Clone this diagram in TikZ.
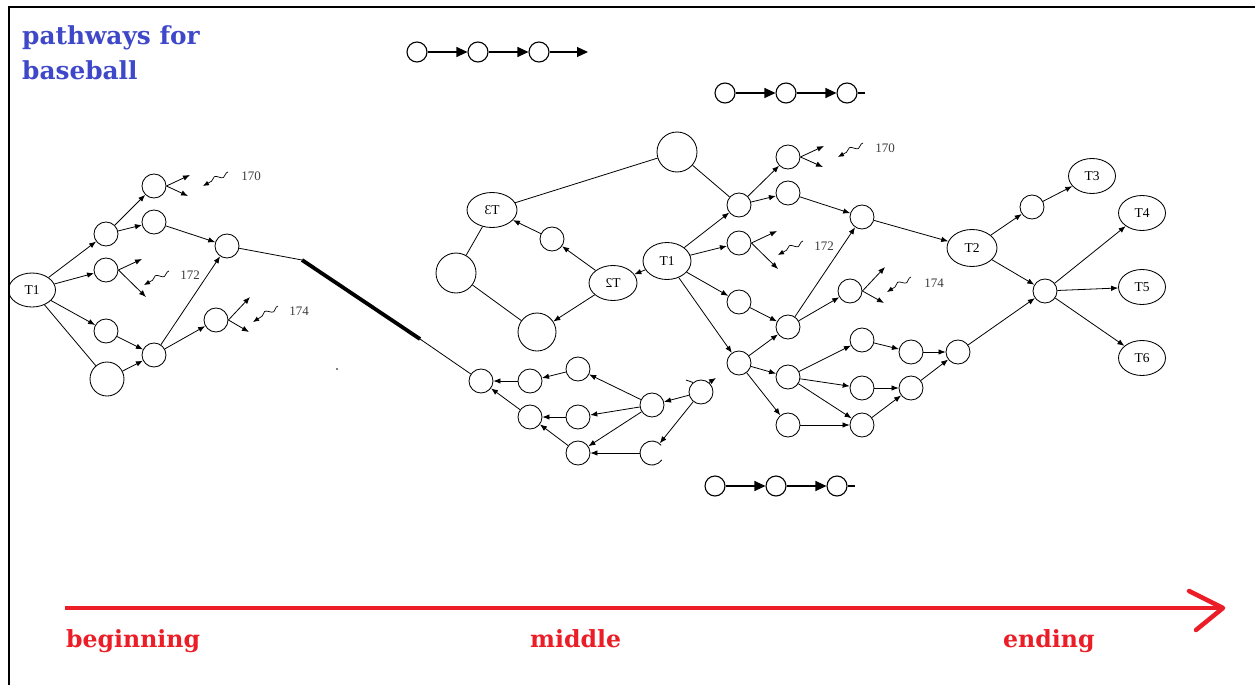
\documentclass[tikz,border=0pt]{standalone}
\usepackage{fontspec}
\setmainfont{Liberation Serif}
\newfontfamily\titlefont{DejaVu Serif}
\usetikzlibrary{arrows.meta,shapes.geometric,decorations.pathmorphing}
\definecolor{ttlblue}{RGB}{62,72,200}
\definecolor{axred}{RGB}{235,30,40}
\definecolor{lblgray}{RGB}{60,60,60}
\tikzset{
  circ/.style={circle, draw, minimum size=24pt, inner sep=0pt, line width=0.85pt},
  ell/.style={ellipse, draw, minimum width=48pt, minimum height=35pt, inner sep=0pt, line width=0.85pt, font=\fontsize{13.5}{13.5}\selectfont},
  arr/.style={-{Latex[length=7pt,width=5.5pt]}, line width=0.8pt},
  ln/.style={line width=0.8pt},
  thick line/.style={line width=3.8pt},
  squig/.style={-{Latex[length=6pt,width=5pt]}, line width=0.7pt, decorate,
    decoration={snake, amplitude=2.6pt, segment length=15pt, pre length=2pt, post length=4pt}},
  num/.style={font=\fontsize{13}{13}\selectfont, text=lblgray, inner sep=0pt},
  chainnode/.style={circle, draw, minimum size=20pt, inner sep=0pt, line width=1.1pt},
  chainarr/.style={-{Triangle[length=11pt,width=10pt]}, line width=1.1pt},
  ttl/.style={font=\titlefont\bfseries\fontsize{24.8}{28}\selectfont, text=ttlblue, inner sep=0pt, anchor=base west},
  axlbl/.style={font=\titlefont\bfseries\fontsize{23.6}{26}\selectfont, text=axred, inner sep=0pt, anchor=base west},
}
\begin{document}
\begin{tikzpicture}[x=1pt,y=-1pt]
\useasboundingbox (0,0) rectangle (1255,685);
% frame
\draw[line width=1.2pt] (9,685) -- (9,7) -- (1255,7);

% title
\node[ttl] (t1) at (22,45) {pathways for};
\node[ttl] (t2) at (22,80) {baseball};

% ---------------- left cluster ----------------
\node[ell, minimum width=47pt, minimum height=34pt] (L) at (32,290) {T1};
\node[circ] (La) at (106,234) {};
\node[circ] (L170) at (154,186) {};
\node[circ] (Lb) at (154,222) {};
\node[circ] (L172) at (106,270) {};
\node[circ] (Lc) at (106,331) {};
\node[circ, minimum size=34pt] (Lbig) at (107,379) {};
\node[circ] (Ld) at (154,355) {};
\node[circ] (Le) at (227,246) {};
\node[circ] (L174) at (216,320) {};
\coordinate (La1) at (190,175);
\coordinate (La2) at (188,196);
\coordinate (Lb1) at (142,259);
\coordinate (Lb2) at (146,297);
\coordinate (Lc1) at (250,297);
\coordinate (Lc2) at (249,332);
\draw[arr] (L170.east) -- (La1);
\draw[arr] (L170.east) -- (La2);
\draw[arr] (L172.east) -- (Lb1);
\draw[arr] (L172.east) -- (Lb2);
\draw[arr] (L174.east) -- (Lc1);
\draw[arr] (L174.east) -- (Lc2);
\coordinate (Ls1a) at (228,172); \coordinate (Ls1b) at (203,186);
\coordinate (Ls2a) at (169,271); \coordinate (Ls2b) at (144,285);
\coordinate (Ls3a) at (278,306); \coordinate (Ls3b) at (253,322);
\draw[squig] (Ls1a) -- (Ls1b);
\draw[squig] (Ls2a) -- (Ls2b);
\draw[squig] (Ls3a) -- (Ls3b);
\node[num] (Ln1) at (251,176) {170};
\node[num] (Ln2) at (190,275) {172};
\node[num] (Ln3) at (299,311) {174};
\draw[arr] (L) -- (La);
\draw[arr] (L) -- (L172);
\draw[arr] (L) -- (Lc);
\draw[ln] (L) -- (Lbig);
\draw[arr] (Lbig) -- (Ld);
\draw[arr] (La) -- (L170);
\draw[arr] (La) -- (Lb);
\draw[arr] (Lb) -- (Le);
\draw[arr] (Lc) -- (Ld);
\draw[arr] (Ld) -- (Le);
\draw[arr] (Ld) -- (L174);

% bridge
\coordinate (J1) at (302,260);
\coordinate (J2) at (420,339);
\fill (337,369) circle[radius=0.9pt];

% ---------------- middle upper cluster ----------------
\node[circ, minimum size=40pt] (Mtop) at (677,152) {};
\node[ell, minimum width=50pt] (M3) at (492,210) {\scalebox{-1}[1]{T3}};
\node[circ] (Ms) at (552,239) {};
\node[circ, minimum size=40pt] (Mleft) at (456,273) {};
\node[ell] (M2) at (613,283) {\scalebox{-1}[1]{T2}};
\node[ell, minimum height=37pt] (M1) at (667,261) {T1};
\node[circ, minimum size=38pt] (Mbot) at (537,332) {};
\draw[ln] (M3) -- (Mtop);
\draw[ln] (M3) -- (Mleft);
\draw[ln] (Mleft) -- (Mbot);
\draw[arr] (M2) -- (Ms);
\draw[arr] (Ms) -- (M3);
\draw[arr] (M2) -- (Mbot);
\draw[arr] (M1) -- (M2);

% ---------------- middle lower cluster ----------------
\node[circ] (n1) at (481,381) {};
\node[circ] (n2) at (530,381) {};
\node[circ] (n3) at (578,369) {};
\node[circ] (n4) at (530,417) {};
\node[circ] (n5) at (578,417) {};
\node[circ] (n6) at (578,453) {};
\node[circ] (n7) at (652,405) {};
\node[circ] (n8) at (701,392) {};
\node[circ, draw=none] (n9) at (652,453) {};
\draw[line width=0.85pt] ([shift={(40:12pt)}]n9.center) arc[start angle=40, end angle=325, radius=12pt];
\coordinate (n8a) at (716,378);
\coordinate (n8b) at (686,380);
\draw[arr] (n8.50) -- (n8a);
\draw[ln] (n8.130) -- (n8b);
\draw[ln] (Le) -- (J1);
\draw[thick line] (J1) -- (J2);
\draw[ln] (J2) -- (n1);
\draw[arr] (n2) -- (n1);
\draw[arr] (n3) -- (n2);
\draw[arr] (n4) -- (n1);
\draw[arr] (n5) -- (n4);
\draw[arr] (n6) -- (n4);
\draw[arr] (n7) -- (n3);
\draw[arr] (n7) -- (n5);
\draw[arr] (n7) -- (n6);
\draw[arr] (n8) -- (n7);
\draw[arr] (n8) -- (n9);
\draw[arr] (n9) -- (n6);

% ---------------- right cluster ----------------
\node[circ] (Ra) at (739,205) {};
\node[circ] (R170) at (788,157) {};
\node[circ] (Rb) at (788,193) {};
\node[circ] (R172) at (739,243) {};
\node[circ] (Rc) at (739,302) {};
\node[circ] (Rd) at (788,327) {};
\node[circ] (Re) at (862,217) {};
\node[circ] (R174) at (850,291) {};
\node[ell, minimum width=50pt, minimum height=37pt] (T2) at (972,248) {T2};
\node[circ] (Rf) at (739,363) {};
\node[circ] (Rg) at (788,377) {};
\node[circ] (Rh) at (788,425) {};
\node[circ] (Ri) at (862,340) {};
\node[circ] (Rj) at (911,352) {};
\node[circ] (Rk) at (862,388) {};
\node[circ] (Rl) at (911,388) {};
\node[circ] (Rm) at (862,425) {};
\node[circ] (Rn) at (958,352) {};
\coordinate (Ra1) at (824,146);
\coordinate (Ra2) at (823,167);
\coordinate (Rb1) at (777,231);
\coordinate (Rb2) at (778,269);
\coordinate (Rc1) at (885,267);
\coordinate (Rc2) at (884,303);
\draw[arr] (R170.east) -- (Ra1);
\draw[arr] (R170.east) -- (Ra2);
\draw[arr] (R172.east) -- (Rb1);
\draw[arr] (R172.east) -- (Rb2);
\draw[arr] (R174.east) -- (Rc1);
\draw[arr] (R174.east) -- (Rc2);
\coordinate (Rs1a) at (863,143); \coordinate (Rs1b) at (838,157);
\coordinate (Rs2a) at (803,241); \coordinate (Rs2b) at (778,255);
\coordinate (Rs3a) at (911,277); \coordinate (Rs3b) at (887,292);
\draw[squig] (Rs1a) -- (Rs1b);
\draw[squig] (Rs2a) -- (Rs2b);
\draw[squig] (Rs3a) -- (Rs3b);
\node[num] (Rn1) at (885,148) {170};
\node[num] (Rn2) at (824,246) {172};
\node[num] (Rn3) at (934,283) {174};
\draw[ln] (Mtop) -- (Ra);
\draw[arr] (M1) -- (Ra);
\draw[arr] (M1) -- (R172);
\draw[arr] (M1) -- (Rc);
\draw[arr] (M1) -- (Rf);
\draw[arr] (Ra) -- (R170);
\draw[arr] (Ra) -- (Rb);
\draw[arr] (Rb) -- (Re);
\draw[arr] (Rc) -- (Rd);
\draw[arr] (Rd) -- (Re);
\draw[arr] (Rd) -- (R174);
\draw[arr] (Re) -- (T2);
\draw[arr] (Rf) -- (Rd);
\draw[arr] (Rf) -- (Rg);
\draw[arr] (Rf) -- (Rh);
\draw[arr] (Rg) -- (Ri);
\draw[arr] (Rg) -- (Rk);
\draw[arr] (Rg) -- (Rm);
\draw[arr] (Rh) -- (Rm);
\draw[arr] (Ri) -- (Rj);
\draw[arr] (Rj) -- (Rn);
\draw[arr] (Rk) -- (Rl);
\draw[arr] (Rm) -- (Rl);
\draw[arr] (Rl) -- (Rn);

% ---------------- far right ----------------
\node[circ] (Rp) at (1032,207) {};
\node[ell, minimum width=47pt] (T3) at (1092,176) {T3};
\node[ell, minimum width=47pt] (T4) at (1142,213) {T4};
\node[circ] (X) at (1045,291) {};
\node[ell, minimum width=47pt] (T5) at (1142,287) {T5};
\node[ell, minimum width=47pt] (T6) at (1142,358) {T6};
\draw[arr] (Rn) -- (X);
\draw[arr] (T2) -- (Rp);
\draw[arr] (Rp) -- (T3);
\draw[arr] (T2) -- (X);
\draw[arr] (X) -- (T4);
\draw[arr] (X) -- (T5);
\draw[arr] (X) -- (T6);

% ---------------- small chains ----------------
\node[chainnode] (c11) at (417,52) {};
\node[chainnode] (c12) at (478,52) {};
\node[chainnode] (c13) at (539,52) {};
\coordinate (c1e) at (588,52);
\draw[chainarr] (c11) -- (c12);
\draw[chainarr] (c12) -- (c13);
\draw[chainarr] (c13) -- (c1e);
\node[chainnode] (c21) at (725,93) {};
\node[chainnode] (c22) at (786,93) {};
\node[chainnode] (c23) at (847,93) {};
\coordinate (c2e) at (865,93);
\draw[chainarr] (c21) -- (c22);
\draw[chainarr] (c22) -- (c23);
\draw[line width=1.1pt] (c23) -- (c2e);
\node[chainnode] (c31) at (715,486) {};
\node[chainnode] (c32) at (776,486) {};
\node[chainnode] (c33) at (837,486) {};
\coordinate (c3e) at (855,486);
\draw[chainarr] (c31) -- (c32);
\draw[chainarr] (c32) -- (c33);
\draw[line width=1.1pt] (c33) -- (c3e);

% ---------------- time axis ----------------
\coordinate (ax0) at (65,608);
\coordinate (ax1) at (1223,608);
\coordinate (h1) at (1189,591);
\coordinate (h2) at (1196,630);
\draw[axred, line width=4.5pt] (ax0) -- (ax1);
\draw[axred, line width=4.5pt, line cap=round, line join=round] (h1) -- (ax1) -- (h2);
\node[axlbl] (b1) at (66,647) {beginning};
\node[axlbl] (b2) at (530,647) {middle};
\node[axlbl] (b3) at (1003,647) {ending};
\end{tikzpicture}
\end{document}
